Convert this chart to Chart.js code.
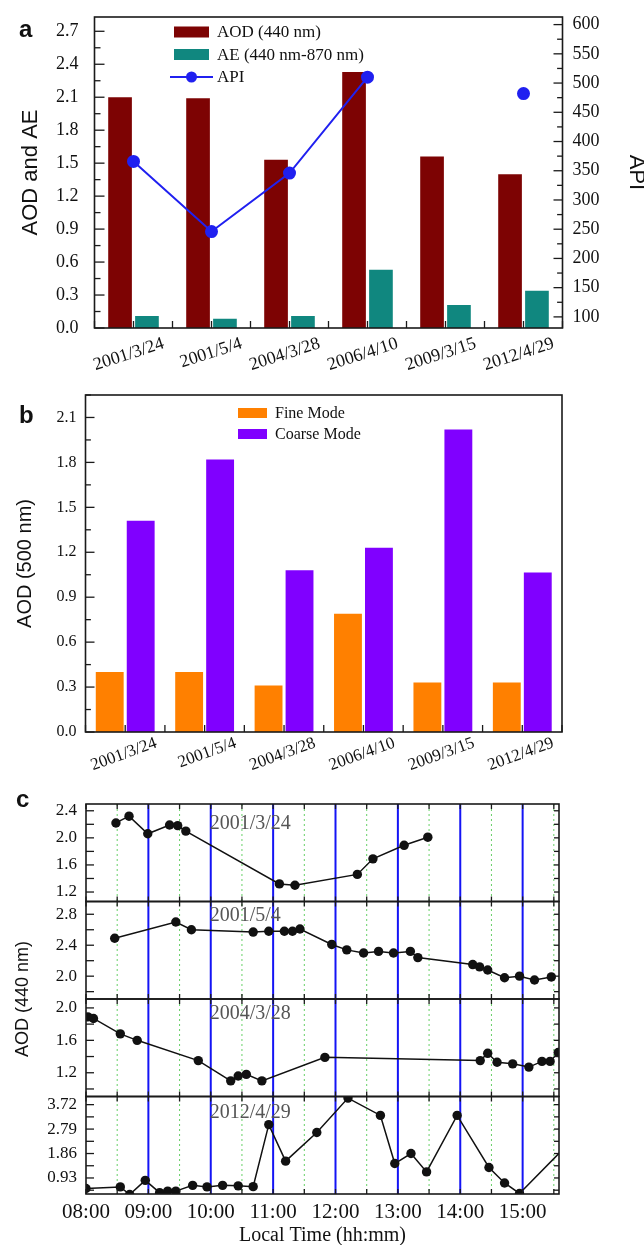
<!DOCTYPE html>
<html>
<head>
<meta charset="utf-8">
<script src="https://cdn.jsdelivr.net/npm/chart.js@4.4.1/dist/chart.umd.min.js"></script>
<style>
  body { margin: 0; background: #fff; }
  #page { position: relative; width: 644px; height: 1245px; overflow: hidden; }
  canvas { position: absolute; left: 0; }
  .tag { position: absolute; font: bold 24px "Liberation Sans", Arial, sans-serif; line-height: 24px; color: #111; }
</style>
</head>
<body>
<div id="page">
  <canvas id="chartA" width="644" height="380" style="top:0"></canvas>
  <canvas id="chartB" width="644" height="400" style="top:380px"></canvas>
  <canvas id="chartC" width="644" height="465" style="top:780px"></canvas>
  <div class="tag" style="left:19px;top:17px">a</div>
  <div class="tag" style="left:19px;top:403px">b</div>
  <div class="tag" style="left:16px;top:787px">c</div>
</div>
<script>
/* data */
const dates = ['2001/3/24', '2001/5/4', '2004/3/28', '2006/4/10', '2009/3/15', '2012/4/29'];
const aod440 = [2.10, 2.09, 1.53, 2.33, 1.56, 1.40];
const ae = [0.11, 0.085, 0.11, 0.53, 0.21, 0.34];
const api = [366, 246, 346, 510, null, 482];
const fineMode = [0.40, 0.40, 0.31, 0.79, 0.33, 0.33];
const coarseMode = [1.41, 1.82, 1.08, 1.23, 2.02, 1.065];

// panel c: local time (hours) and AOD 440 nm for each day
const dayLabels = ['2001/3/24', '2001/5/4', '2004/3/28', '2012/4/29'];
const t1 = [8.48, 8.69, 8.99, 9.34, 9.47, 9.60, 11.10, 11.35, 12.35, 12.60, 13.10, 13.48];
const v1 = [2.22, 2.32, 2.06, 2.19, 2.18, 2.10, 1.32, 1.30, 1.46, 1.69, 1.89, 2.01];
const t2 = [8.46, 9.44, 9.69, 10.68, 10.93, 11.18, 11.31, 11.43, 11.94, 12.18, 12.45, 12.69, 12.93, 13.20, 13.32, 14.20, 14.31, 14.44, 14.71, 14.95, 15.19, 15.46];
const v2 = [2.49, 2.70, 2.60, 2.57, 2.58, 2.58, 2.58, 2.61, 2.41, 2.34, 2.30, 2.32, 2.30, 2.32, 2.24, 2.15, 2.12, 2.08, 1.98, 2.00, 1.95, 1.99];
const t3 = [8.03, 8.12, 8.55, 8.82, 9.80, 10.32, 10.44, 10.57, 10.82, 11.83, 14.32, 14.44, 14.59, 14.84, 15.10, 15.31, 15.44, 15.57];
const v3 = [1.89, 1.87, 1.68, 1.60, 1.35, 1.10, 1.16, 1.18, 1.10, 1.39, 1.35, 1.44, 1.33, 1.31, 1.27, 1.34, 1.34, 1.45];
const t4 = [8.00, 8.55, 8.70, 8.95, 9.18, 9.31, 9.44, 9.71, 9.94, 10.19, 10.44, 10.68, 10.93, 11.20, 11.70, 12.20, 12.72, 12.95, 13.21, 13.46, 13.95, 14.46, 14.71, 14.95, 15.70];
const v4 = [0.53, 0.59, 0.30, 0.84, 0.37, 0.43, 0.43, 0.65, 0.59, 0.65, 0.63, 0.60, 2.96, 1.57, 2.66, 3.97, 3.31, 1.48, 1.86, 1.16, 3.31, 1.33, 0.74, 0.34, 2.15];

const SERIF = '"Liberation Serif", "Times New Roman", serif';
const SANS = '"Liberation Sans", Arial, sans-serif';
Chart.defaults.font.family = SERIF;
Chart.defaults.color = '#111';

const noGrid = { display: false, drawTicks: false };
// keep the plot area where it is, labels may hang over the edge
const fixWidth = w => s => { s.width = w; s.paddingTop = 0; s.paddingBottom = 0; };

function tickValues(s, step, from) {
  const out = [];
  const lo = from !== undefined ? from : Math.ceil(s.min / step - 1e-6) * step;
  const hi = from !== undefined ? s.max + 0.5 : s.max;
  for (let v = lo; v <= hi + 1e-6; v += step) out.push(Math.round(v * 1e4) / 1e4);
  return out;
}
function isMultiple(v, step) {
  return Math.abs(v / step - Math.round(v / step)) < 1e-4;
}

// Origin style frame with inward tick marks
const frameTicks = {
  id: 'frameTicks',
  afterDatasetsDraw(chart, args, o) {
    const ctx = chart.ctx, area = chart.chartArea;
    ctx.save();
    ctx.strokeStyle = '#1a1a1a';
    ctx.lineWidth = 1.3;
    (o.marks || []).forEach(m => {
      const s = chart.scales[m.scale];
      const span = m.across ? chart.scales[m.across] : area;
      tickValues(s, m.step, m.from).forEach(v => {
        const p = s.getPixelForValue(v);
        const len = (!m.major || isMultiple(v, m.major)) ? m.len : m.len * 0.6;
        ctx.beginPath();
        if (m.side === 'left' || m.side === 'right') {
          if (p < s.top - 0.5 || p > s.bottom + 0.5) return;
          const x0 = m.side === 'left' ? area.left : area.right;
          ctx.moveTo(x0, p);
          ctx.lineTo(x0 + (m.side === 'left' ? len : -len), p);
        } else {
          if (p < area.left - 0.5 || p > area.right + 0.5) return;
          const y0 = m.side === 'top' ? span.top : span.bottom;
          ctx.moveTo(p, y0);
          ctx.lineTo(p, y0 + (m.side === 'top' ? len : -len));
        }
        ctx.stroke();
      });
    });
    ctx.lineWidth = o.frameWidth || 1.6;
    (o.boxes || [null]).forEach(id => {
      const s = id ? chart.scales[id] : area;
      ctx.strokeRect(area.left, s.top, area.right - area.left, s.bottom - s.top);
    });
    ctx.restore();
  }
};

// legend drawn inside the plot area
const boxLegend = {
  id: 'boxLegend',
  afterDatasetsDraw(chart, args, o) {
    const ctx = chart.ctx;
    ctx.save();
    ctx.font = o.font;
    ctx.textBaseline = 'middle';
    chart.data.datasets.forEach((ds, i) => {
      const x = o.x, y = o.y + i * o.gap;
      if (ds.type === 'line') {
        ctx.strokeStyle = ds.borderColor;
        ctx.lineWidth = 2;
        ctx.beginPath();
        ctx.moveTo(x - 4, y);
        ctx.lineTo(x + o.w + 4, y);
        ctx.stroke();
        ctx.fillStyle = ds.pointBackgroundColor;
        ctx.beginPath();
        ctx.arc(x + o.w / 2, y, 5.5, 0, Math.PI * 2);
        ctx.fill();
      } else {
        ctx.fillStyle = ds.backgroundColor;
        ctx.fillRect(x, y - o.h / 2, o.w, o.h);
      }
      ctx.fillStyle = '#111';
      ctx.fillText(ds.label, x + o.w + o.textGap, y + 1);
    });
    ctx.restore();
  }
};

/* Panel a */
new Chart(document.getElementById('chartA'), {
  type: 'bar',
  data: {
    labels: dates,
    datasets: [
      { label: 'AOD (440 nm)', data: aod440, backgroundColor: '#7d0303', yAxisID: 'y', order: 2,
        categoryPercentage: 0.69, barPercentage: 0.88 },
      { label: 'AE (440 nm-870 nm)', data: ae, backgroundColor: '#10877f', yAxisID: 'y', order: 2,
        categoryPercentage: 0.69, barPercentage: 0.88 },
      { type: 'line', label: 'API', data: api, yAxisID: 'y2', order: 1,
        borderColor: '#2020f0', backgroundColor: '#2020f0', pointBackgroundColor: '#2020f0',
        pointBorderColor: '#2020f0', pointRadius: 5.5, borderWidth: 2, spanGaps: false }
    ]
  },
  options: {
    responsive: false,
    animation: false,
    events: [],
    layout: { padding: { top: 17, left: 0, right: 0, bottom: 0 } },
    plugins: {
      legend: { display: false },
      tooltip: { enabled: false },
      boxLegend: { x: 174, y: 32, gap: 22.5, w: 35, h: 11, textGap: 8, font: '17px ' + SERIF },
      frameTicks: {
        marks: [
          { scale: 'y', side: 'left', step: 0.15, major: 0.3, len: 10 },
          { scale: 'y2', side: 'right', step: 25, major: 50, len: 9 },
          { scale: 'x', side: 'bottom', step: 0.5, from: -0.5, len: 7 }
        ]
      }
    },
    scales: {
      x: {
        grid: noGrid, border: { display: false },
        ticks: { font: { size: 18 }, minRotation: 18, maxRotation: 18, labelOffset: 30, padding: 5, autoSkip: false },
        afterFit: s => { s.height = 52; }
      },
      y: {
        position: 'left', min: 0, max: 2.83,
        grid: noGrid, border: { display: false },
        ticks: { stepSize: 0.3, includeBounds: false, autoSkip: false, padding: 16, font: { size: 18 }, callback: v => v.toFixed(1) },
        title: { display: true, text: 'AOD and AE', font: { family: SANS, size: 22 }, padding: { top: 18, bottom: 0 } },
        afterFit: fixWidth(94.5)
      },
      y2: {
        position: 'right', min: 81, max: 613,
        grid: noGrid, border: { display: false },
        ticks: { stepSize: 50, includeBounds: false, autoSkip: false, padding: 10, font: { size: 18 } },
        title: { display: true, text: 'API', font: { family: SANS, size: 22, lineHeight: 0.75 }, padding: { top: 0, bottom: 0 } },
        afterFit: fixWidth(81.5)
      }
    }
  },
  plugins: [frameTicks, boxLegend]
});

/* Panel b */
new Chart(document.getElementById('chartB'), {
  type: 'bar',
  data: {
    labels: dates,
    datasets: [
      { label: 'Fine Mode', data: fineMode, backgroundColor: '#ff8000', categoryPercentage: 0.78, barPercentage: 0.9 },
      { label: 'Coarse Mode', data: coarseMode, backgroundColor: '#8000ff', categoryPercentage: 0.78, barPercentage: 0.9 }
    ]
  },
  options: {
    responsive: false,
    animation: false,
    events: [],
    layout: { padding: { top: 15, left: 0, right: 82, bottom: 0 } },
    plugins: {
      legend: { display: false },
      tooltip: { enabled: false },
      boxLegend: { x: 238, y: 33, gap: 21, w: 29, h: 10, textGap: 8, font: '16px ' + SERIF },
      frameTicks: {
        marks: [
          { scale: 'y', side: 'left', step: 0.15, major: 0.3, len: 9 },
          { scale: 'x', side: 'bottom', step: 0.5, from: -0.5, len: 7 }
        ]
      }
    },
    scales: {
      x: {
        grid: noGrid, border: { display: false },
        ticks: { font: { size: 17 }, minRotation: 20, maxRotation: 20, labelOffset: 31, padding: 1, autoSkip: false },
        afterFit: s => { s.height = 48; }
      },
      y: {
        min: 0, max: 2.25,
        grid: noGrid, border: { display: false },
        ticks: { stepSize: 0.3, includeBounds: false, autoSkip: false, padding: 9, font: { size: 16 }, callback: v => v.toFixed(1) },
        title: { display: true, text: 'AOD (500 nm)', font: { family: SANS, size: 20 }, padding: { top: 13, bottom: 0 } },
        afterFit: fixWidth(85.5)
      }
    }
  },
  plugins: [frameTicks, boxLegend]
});

/* Panel c */
const hourLines = {
  id: 'hourLines',
  beforeDatasetsDraw(chart) {
    const { ctx, chartArea: a } = chart;
    const x = chart.scales.x;
    ctx.save();
    for (let h = 8.5; h < x.max; h += 0.5) {
      const px = x.getPixelForValue(h);
      ctx.beginPath();
      if (h % 1 === 0) {
        ctx.strokeStyle = '#1414f5'; ctx.lineWidth = 2; ctx.setLineDash([]);
      } else {
        ctx.strokeStyle = '#66d066'; ctx.lineWidth = 1; ctx.setLineDash([2, 3]);
      }
      ctx.moveTo(px, a.top);
      ctx.lineTo(px, a.bottom);
      ctx.stroke();
    }
    ctx.restore();
  }
};

const panelText = {
  id: 'panelText',
  afterDatasetsDraw(chart, args, o) {
    const { ctx, chartArea: a } = chart;
    const x = chart.scales.x;
    ctx.save();
    ctx.font = '20px ' + SERIF;
    ctx.fillStyle = '#555';
    ctx.textBaseline = 'middle';
    ctx.textAlign = 'left';
    o.axes.forEach((id, i) => {
      const s = chart.scales[id];
      ctx.fillText(dayLabels[i], x.getPixelForValue(10) - 1, s.top + o.offsets[i]);
    });
    ctx.translate(23, (a.top + a.bottom) / 2);
    ctx.rotate(-Math.PI / 2);
    ctx.textAlign = 'center';
    ctx.fillStyle = '#111';
    ctx.font = '18px ' + SANS;
    ctx.fillText(o.title, 0, 0);
    ctx.restore();
  }
};

const pts = (t, v) => t.map((h, i) => ({ x: h, y: v[i] }));
const dayStyle = { borderColor: '#111', backgroundColor: '#111', pointBackgroundColor: '#111',
  pointBorderWidth: 0, pointRadius: 4.7, borderWidth: 1.5, showLine: true };
const yAxis = (min, max, step, digits) => ({
  position: 'left', stack: 'aod', stackWeight: 1, min, max,
  grid: noGrid, border: { display: false },
  ticks: { stepSize: step, includeBounds: false, autoSkip: false, padding: 9, font: { size: 17 }, callback: v => v.toFixed(digits) },
  afterFit: fixWidth(86)
});

new Chart(document.getElementById('chartC'), {
  type: 'scatter',
  data: {
    datasets: [
      Object.assign({ label: dayLabels[0], data: pts(t1, v1), yAxisID: 'y1' }, dayStyle),
      Object.assign({ label: dayLabels[1], data: pts(t2, v2), yAxisID: 'y2' }, dayStyle),
      Object.assign({ label: dayLabels[2], data: pts(t3, v3), yAxisID: 'y3' }, dayStyle),
      Object.assign({ label: dayLabels[3], data: pts(t4, v4), yAxisID: 'y4' }, dayStyle)
    ]
  },
  options: {
    responsive: false,
    animation: false,
    events: [],
    layout: { padding: { top: 24, left: 0, right: 85, bottom: 0 } },
    plugins: {
      legend: { display: false },
      tooltip: { enabled: false },
      panelText: { axes: ['y1', 'y2', 'y3', 'y4'], offsets: [20, 14, 15, 16], title: 'AOD (440 nm)' },
      frameTicks: {
        boxes: ['y1', 'y2', 'y3', 'y4'],
        marks: [
          { scale: 'y1', side: 'left', step: 0.2, len: 8 }, { scale: 'y1', side: 'right', step: 0.2, len: 5 },
          { scale: 'y2', side: 'left', step: 0.2, len: 8 }, { scale: 'y2', side: 'right', step: 0.2, len: 5 },
          { scale: 'y3', side: 'left', step: 0.2, len: 8 }, { scale: 'y3', side: 'right', step: 0.2, len: 5 },
          { scale: 'y4', side: 'left', step: 0.465, len: 8 }, { scale: 'y4', side: 'right', step: 0.465, len: 5 },
          { scale: 'x', across: 'y1', side: 'top', step: 0.5, len: 5 }, { scale: 'x', across: 'y1', side: 'bottom', step: 0.5, len: 5 },
          { scale: 'x', across: 'y2', side: 'top', step: 0.5, len: 5 }, { scale: 'x', across: 'y2', side: 'bottom', step: 0.5, len: 5 },
          { scale: 'x', across: 'y3', side: 'top', step: 0.5, len: 5 }, { scale: 'x', across: 'y3', side: 'bottom', step: 0.5, len: 5 },
          { scale: 'x', across: 'y4', side: 'top', step: 0.5, len: 5 }, { scale: 'x', across: 'y4', side: 'bottom', step: 0.5, len: 5 }
        ]
      }
    },
    scales: {
      x: {
        type: 'linear', min: 8, max: 15.583,
        grid: noGrid, border: { display: false },
        ticks: { stepSize: 1, includeBounds: false, padding: 6, font: { size: 21 }, maxRotation: 0,
          callback: v => (v < 10 ? '0' : '') + v + ':00' },
        title: { display: true, text: 'Local Time (hh:mm)', font: { size: 20, lineHeight: 0.9 }, padding: { top: 0, bottom: 0 } },
        afterFit: s => { s.height = 51; }
      },
      // last defined axis is stacked on top
      y4: yAxis(0.32, 4.03, 0.93, 2),
      y3: yAxis(0.907, 2.11, 0.4, 1),
      y2: yAxis(1.705, 2.965, 0.4, 1),
      y1: yAxis(1.06, 2.50, 0.4, 1)
    }
  },
  plugins: [hourLines, frameTicks, panelText]
});
</script>
</body>
</html>
